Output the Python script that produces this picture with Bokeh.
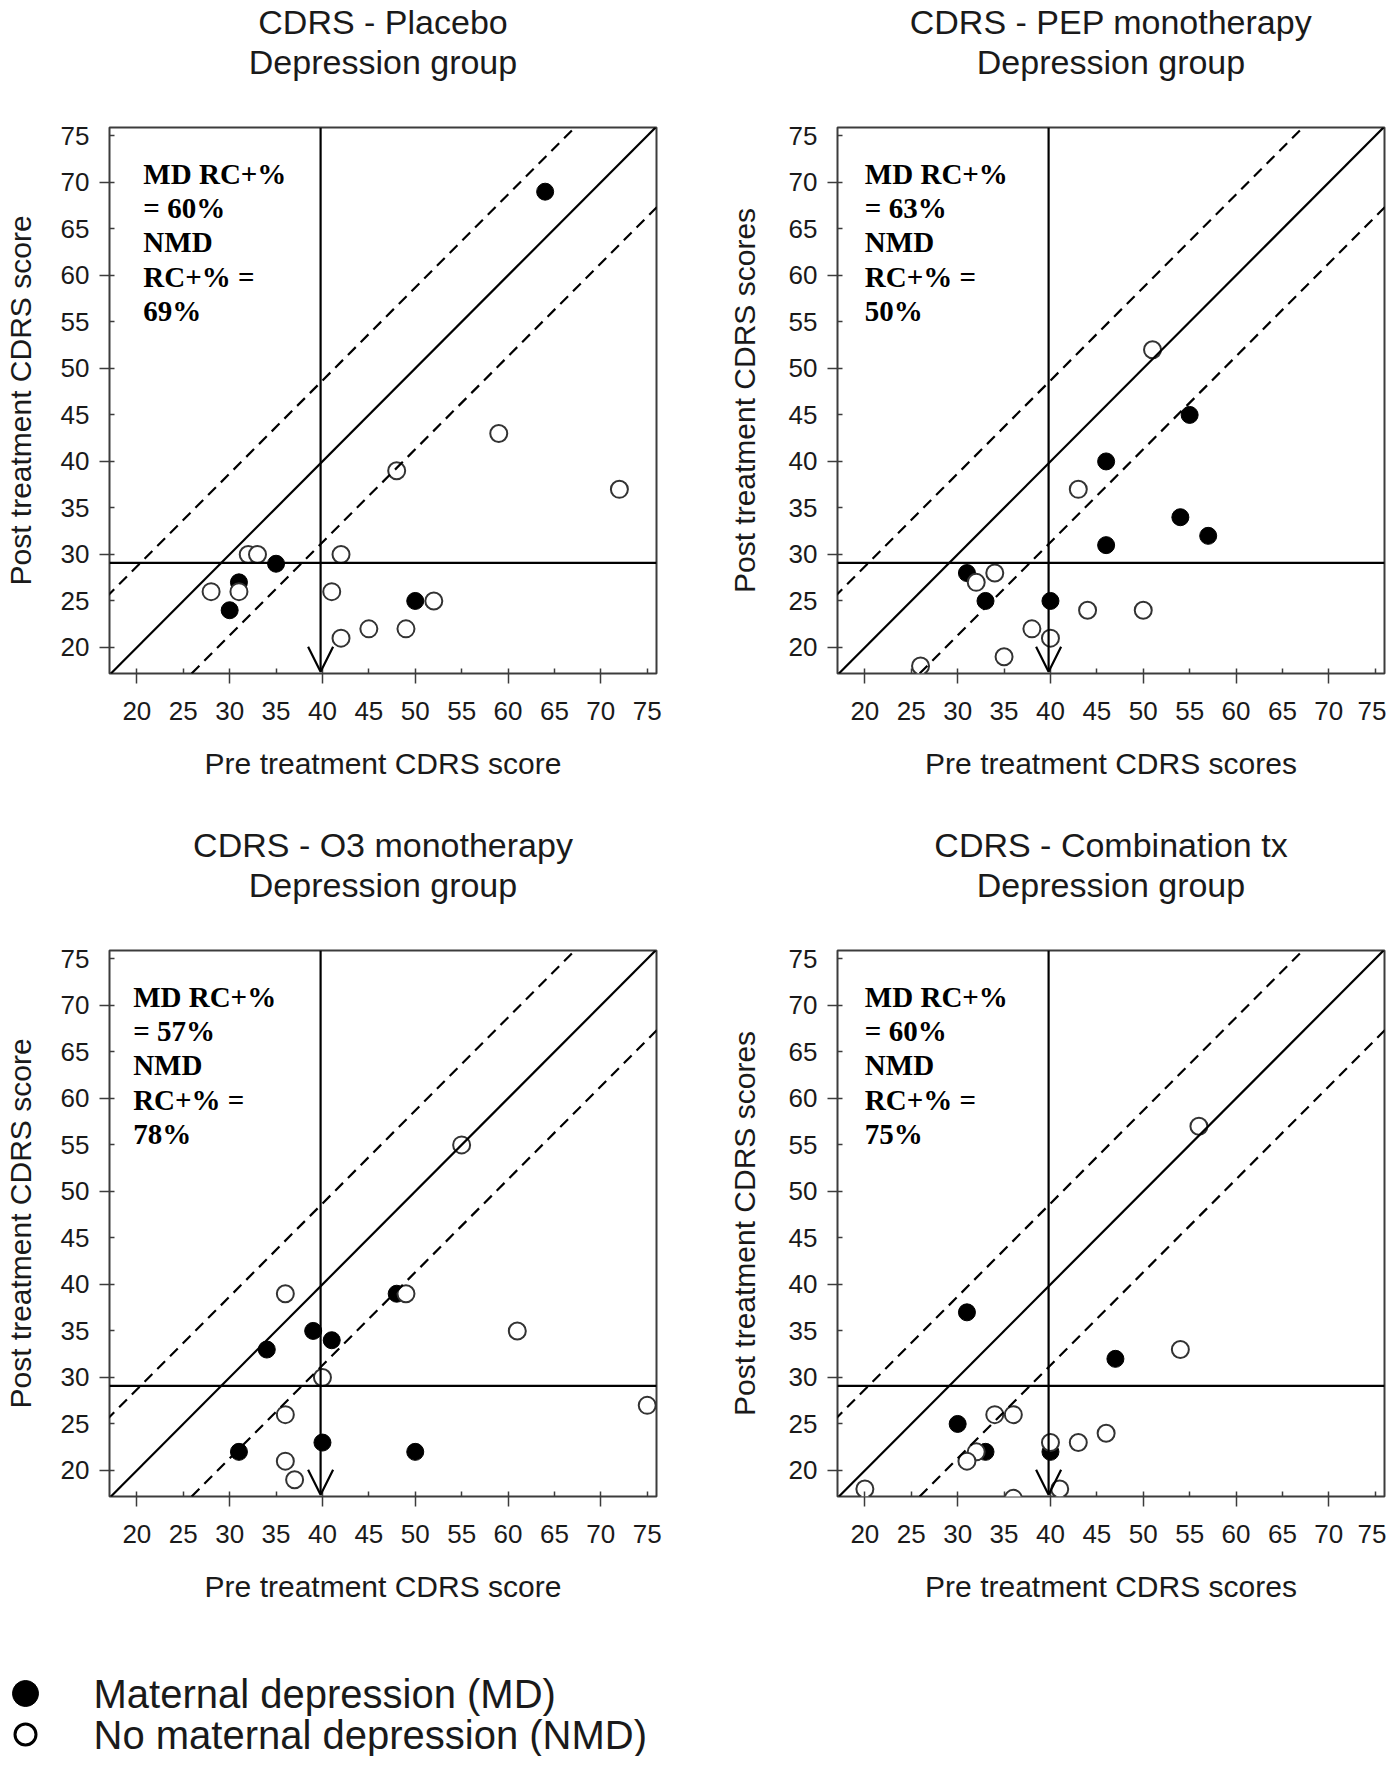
from bokeh.plotting import figure
from bokeh.layouts import row, column
from bokeh.models import (FixedTicker, Span, Slope, Arrow, OpenHead, Label, Title, Range1d)
from bokeh.embed import file_html
from bokeh.resources import INLINE

# ---------------- data ----------------
panel_titles = ["CDRS - Placebo", "CDRS - PEP monotherapy",
                "CDRS - O3 monotherapy", "CDRS - Combination tx"]
subtitle = "Depression group"
x_labels = ["Pre treatment CDRS score", "Pre treatment CDRS scores",
            "Pre treatment CDRS score", "Pre treatment CDRS scores"]
y_labels = ["Post treatment CDRS score", "Post treatment CDRS scores",
            "Post treatment CDRS score", "Post treatment CDRS scores"]
md_rc_pct = ["60%", "63%", "57%", "60%"]
nmd_rc_pct = ["69%", "50%", "78%", "75%"]
tick_values = [20, 25, 30, 35, 40, 45, 50, 55, 60, 65, 70, 75]
legend_labels = ["Maternal depression (MD)", "No maternal depression (NMD)"]

placebo_md_pre = [64, 35, 31, 30, 50]
placebo_md_post = [69, 29, 27, 24, 25]
placebo_nmd_pre = [59, 48, 72, 32, 33, 42, 28, 31, 41, 52, 45, 49, 42]
placebo_nmd_post = [43, 39, 37, 30, 30, 30, 26, 26, 26, 25, 22, 22, 21]

pep_md_pre = [55, 46, 54, 57, 46, 31, 33, 40]
pep_md_post = [45, 40, 34, 32, 31, 28, 25, 25]
pep_nmd_pre = [51, 43, 32, 34, 44, 50, 38, 40, 35, 26]
pep_nmd_post = [52, 37, 27, 28, 24, 24, 22, 21, 19, 18]

o3_md_pre = [48, 39, 41, 34, 40, 31, 50]
o3_md_post = [39, 35, 34, 33, 23, 22, 22]
o3_nmd_pre = [55, 36, 49, 61, 40, 75, 36, 36, 37]
o3_nmd_post = [55, 39, 39, 35, 30, 27, 26, 21, 19]

combo_md_pre = [31, 47, 30, 40, 33]
combo_md_post = [37, 32, 25, 22, 22]
combo_nmd_pre = [56, 54, 34, 36, 46, 40, 43, 32, 31, 20, 41, 36]
combo_nmd_post = [57, 33, 26, 26, 24, 23, 23, 22, 21, 18, 18, 17]

identity_slope = 1.0
rc_band = 8.7            # reliable-change band around y = x
remission_cutoff = 29.1  # horizontal reference line
severity_cutoff = 39.8   # vertical arrow

X_LO, X_HI = 17.05, 76.0
Y_LO, Y_HI = 17.2, 75.9

INK = "#1a1a1a"
FRAME = "#3c3c3c"
SANS = "Liberation Sans"
SERIF = "Liberation Serif"


def make_panel(i, md_pre, md_post, nmd_pre, nmd_post, lb, rb, y_lab_standoff, text_x):
    p = figure(frame_width=547, frame_height=546,
               x_range=Range1d(X_LO, X_HI), y_range=Range1d(Y_LO, Y_HI),
               output_backend="svg", toolbar_location=None,
               min_border_left=lb, min_border_right=rb,
               min_border_top=126, min_border_bottom=150,
               x_axis_label=x_labels[i], y_axis_label=y_labels[i])
    p.grid.visible = False
    p.outline_line_color = FRAME
    p.outline_line_width = 2
    p.background_fill_color = "white"
    p.border_fill_color = "white"

    # heading: blank spacer next to the frame, then the two title lines
    p.add_layout(Title(text=" ", text_font=SANS, text_font_size="30px",
                       standoff=12), "above")
    p.add_layout(Title(text=subtitle, align="center", text_font=SANS,
                       text_font_size="34px", text_font_style="normal",
                       text_color=INK, standoff=0), "above")
    p.add_layout(Title(text=panel_titles[i], align="center", text_font=SANS,
                       text_font_size="34px", text_font_style="normal",
                       text_color=INK, standoff=0), "above")

    for ax in (p.xaxis[0], p.yaxis[0]):
        ax.ticker = FixedTicker(ticks=tick_values, minor_ticks=tick_values[::2])
        ax.major_tick_in = 5
        ax.major_tick_out = 0
        ax.minor_tick_in = 0
        ax.minor_tick_out = 10
        ax.axis_line_color = None
        ax.major_tick_line_color = FRAME
        ax.minor_tick_line_color = FRAME
        ax.major_tick_line_width = 1.5
        ax.minor_tick_line_width = 1.5
        ax.major_label_text_font = SANS
        ax.major_label_text_font_size = "26px"
        ax.major_label_text_color = INK
        ax.axis_label_text_font = SANS
        ax.axis_label_text_font_size = "30px"
        ax.axis_label_text_font_style = "normal"
        ax.axis_label_text_color = INK
    p.xaxis[0].major_label_standoff = 18
    p.xaxis[0].axis_label_standoff = 24
    p.yaxis[0].major_label_standoff = 10
    p.yaxis[0].axis_label_standoff = y_lab_standoff

    # reference lines
    p.add_layout(Slope(gradient=identity_slope, y_intercept=0,
                       line_color="black", line_width=2.2))
    p.add_layout(Slope(gradient=identity_slope, y_intercept=rc_band,
                       line_color="black", line_width=2.2, line_dash="11 7"))
    p.add_layout(Slope(gradient=identity_slope, y_intercept=-rc_band,
                       line_color="black", line_width=2.2, line_dash="11 7"))
    p.add_layout(Span(location=remission_cutoff, dimension="width",
                      line_color="black", line_width=2.2))
    p.add_layout(Arrow(end=OpenHead(size=25, line_width=2.2, line_color="black"),
                       x_start=severity_cutoff, y_start=Y_HI,
                       x_end=severity_cutoff, y_end=17.4,
                       line_color="black", line_width=2.2))

    # points
    p.scatter(md_pre, md_post, size=17, fill_color="black", line_color="black",
              line_width=1)
    p.scatter(nmd_pre, nmd_post, size=17, fill_color="white", line_color="#333333",
              line_width=2)

    # annotation text
    lines = ["MD RC+%", "= " + md_rc_pct[i], "NMD", "RC+% =", nmd_rc_pct[i]]
    for k, t in enumerate(lines):
        p.add_layout(Label(x=text_x, y=70.95, y_offset=-34.4 * k, text=t,
                           text_font=SERIF, text_font_style="bold",
                           text_font_size="29px", text_color="black",
                           text_baseline="middle", text_align="left"))
    return p


p1 = make_panel(0, placebo_md_pre, placebo_md_post, placebo_nmd_pre, placebo_nmd_post,
                100, 55, 21, 20.7)
p2 = make_panel(1, pep_md_pre, pep_md_post, pep_nmd_pre, pep_nmd_post,
                126, 2, 25, 20.0)
p3 = make_panel(2, o3_md_pre, o3_md_post, o3_nmd_pre, o3_nmd_post,
                100, 55, 21, 19.6)
p4 = make_panel(3, combo_md_pre, combo_md_post, combo_nmd_pre, combo_nmd_post,
                126, 2, 25, 20.0)

# legend strip (pixel coordinates)
leg = figure(frame_width=700, frame_height=110, x_range=Range1d(0, 700),
             y_range=Range1d(0, 110), output_backend="svg", toolbar_location=None,
             min_border=0)
leg.axis.visible = False
leg.grid.visible = False
leg.outline_line_color = None
leg.scatter([25], [63], size=26, fill_color="black", line_color="black")
leg.scatter([25], [22], size=21, fill_color="white", line_color="black", line_width=3)
leg.text([93, 93], [63, 22], text=legend_labels, text_font_size="40px",
         text_baseline="middle", text_align="left", text_color=INK,
         text_font={"value": SANS})

layout = column(row(p1, p2), row(p3, p4), leg)
open("out.html", "w").write(file_html(layout, INLINE))
